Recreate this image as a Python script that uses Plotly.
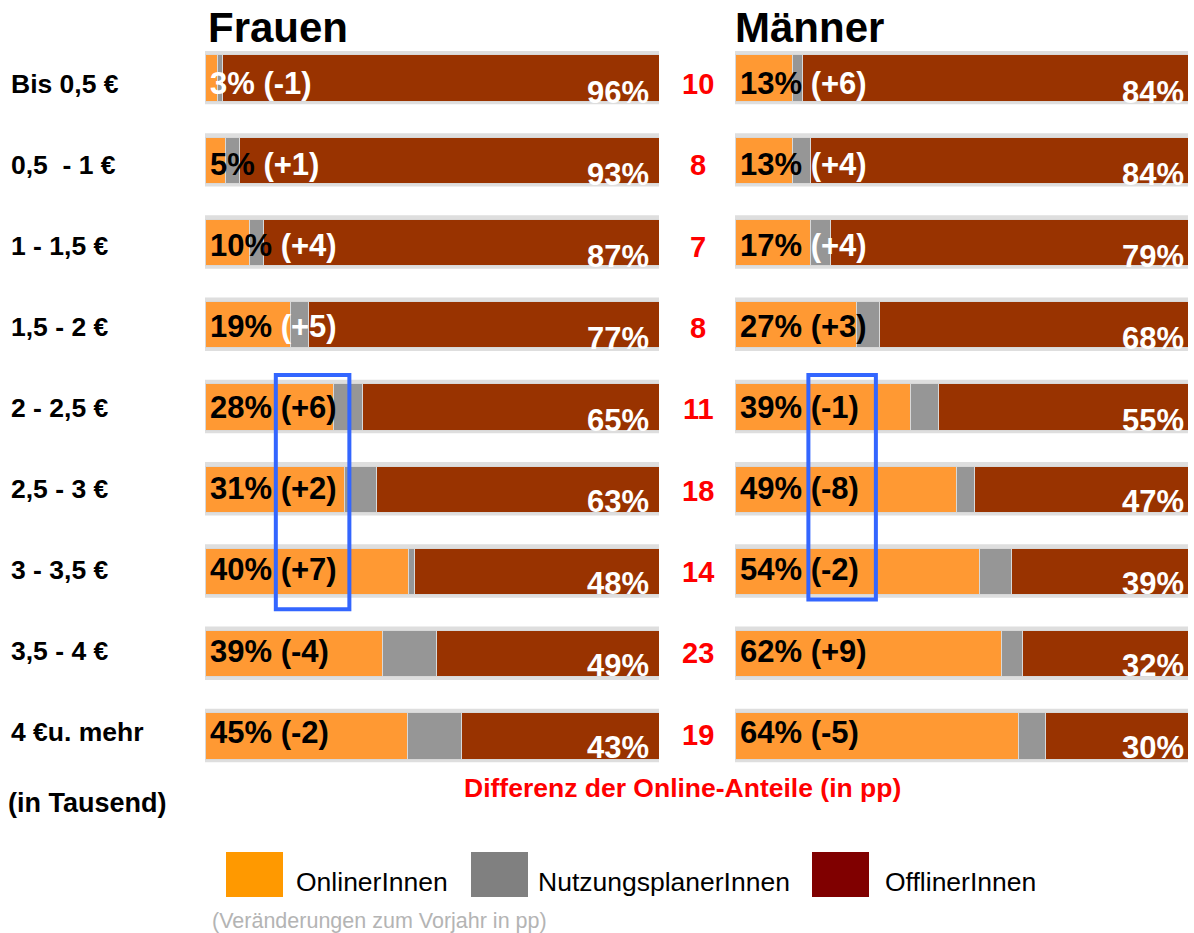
import plotly.graph_objects as go

# ---------------- data ----------------
categories = ["Bis 0,5 €", "0,5\u00a0\u00a0- 1 €", "1 - 1,5 €", "1,5 - 2 €", "2 - 2,5 €",
              "2,5 - 3 €", "3 - 3,5 €", "3,5 - 4 €", "4 €u. mehr"]

frauen_online = [2.7, 4.6, 9.7, 18.8, 28.3, 30.7, 44.9, 39.0, 44.5]
frauen_planer = [1.2, 3.1, 3.2, 4.0, 6.3, 7.0, 1.2, 12.1, 11.9]
frauen_offline = [96.1, 92.3, 87.1, 77.2, 65.4, 62.3, 53.9, 48.9, 43.6]

maenner_online = [12.8, 12.6, 16.7, 26.8, 38.7, 48.8, 53.9, 58.8, 62.6]
maenner_planer = [2.0, 4.0, 4.3, 5.0, 6.2, 4.0, 7.1, 4.6, 6.0]
maenner_offline = [85.2, 83.4, 79.0, 68.2, 55.1, 47.2, 39.0, 36.6, 31.4]

frauen_pct = ["3%", "5%", "10%", "19%", "28%", "31%", "40%", "39%", "45%"]
frauen_chg = ["(-1)", "(+1)", "(+4)", "(+5)", "(+6)", "(+2)", "(+7)", "(-4)", "(-2)"]
frauen_off_lbl = ["96%", "93%", "87%", "77%", "65%", "63%", "48%", "49%", "43%"]

maenner_pct = ["13%", "13%", "17%", "27%", "39%", "49%", "54%", "62%", "64%"]
maenner_chg = ["(+6)", "(+4)", "(+4)", "(+3)", "(-1)", "(-8)", "(-2)", "(+9)", "(-5)"]
maenner_off_lbl = ["84%", "84%", "79%", "68%", "55%", "47%", "39%", "32%", "30%"]

diff_online = [10, 8, 7, 8, 11, 18, 14, 23, 19]

frauen_pct_color = ["white"] + ["black"] * 8
frauen_chg_color = ["white"] * 4 + ["black"] * 5
maenner_pct_color = ["black"] * 9
maenner_chg_color = ["white"] * 3 + ["black"] * 6

series_names = ["OnlinerInnen", "NutzungsplanerInnen", "OfflinerInnen"]
bar_colors = ["#FF9933", "#969696", "#993300"]
legend_colors = ["#FF9900", "#808080", "#800000"]

W, H = 1194, 933
FONT = "Liberation Sans, Arial, sans-serif"
rows = list(range(len(categories)))

fig = go.Figure()

panels = [
    ("x", "y", [frauen_online, frauen_planer, frauen_offline]),
    ("x2", "y2", [maenner_online, maenner_planer, maenner_offline]),
]
for xa, ya, vals in panels:
    for name, col, v in zip(series_names, bar_colors, vals):
        fig.add_trace(go.Bar(
            x=v, y=rows, orientation="h", name=name, width=0.56,
            marker=dict(color=col, line=dict(color="#d8d8d8", width=1)),
            xaxis=xa, yaxis=ya, showlegend=False, hoverinfo="skip",
        ))

shapes = []
annotations = []

# background bands behind each bar
for xr, yr in (("x", "y"), ("x2", "y2")):
    for i in rows:
        shapes.append(dict(type="rect", xref=xr, yref=yr, x0=-0.3, x1=100.3,
                           y0=i - 0.33, y1=i + 0.32, fillcolor="#dedede",
                           line=dict(width=0), layer="below"))

def seg_label(pct, chg, cpct, cchg):
    return (f"<span style='color:{cpct}'>{pct}</span>"
            f"<span style='color:{cchg}'>\u00a0{chg}</span>")

for i in rows:
    dy_left = -(5 - 1.1 * i)
    dy_right = -(14.5 - 0.35 * i)
    # Frauen
    annotations.append(dict(xref="x", yref="y", x=0, y=i, xanchor="left", yanchor="middle",
                            xshift=3, yshift=dy_left, showarrow=False,
                            text=seg_label(frauen_pct[i], frauen_chg[i],
                                           frauen_pct_color[i], frauen_chg_color[i]),
                            font=dict(family=FONT, size=31, weight="bold")))
    annotations.append(dict(xref="x", yref="y", x=100, y=i, xanchor="right", yanchor="middle",
                            xshift=-8, yshift=dy_right, showarrow=False,
                            text=frauen_off_lbl[i],
                            font=dict(family=FONT, size=31, weight="bold", color="white")))
    # Männer
    annotations.append(dict(xref="x2", yref="y2", x=0, y=i, xanchor="left", yanchor="middle",
                            xshift=3, yshift=dy_left, showarrow=False,
                            text=seg_label(maenner_pct[i], maenner_chg[i],
                                           maenner_pct_color[i], maenner_chg_color[i]),
                            font=dict(family=FONT, size=31, weight="bold")))
    annotations.append(dict(xref="x2", yref="y2", x=100, y=i, xanchor="right", yanchor="middle",
                            xshift=-2, yshift=dy_right, showarrow=False,
                            text=maenner_off_lbl[i],
                            font=dict(family=FONT, size=31, weight="bold", color="white")))
    # difference numbers
    annotations.append(dict(xref="paper", yref="y", x=698 / W, y=i, xanchor="center",
                            yanchor="middle", yshift=-(6 - 0.9 * i), showarrow=False,
                            text=str(diff_online[i]),
                            font=dict(family=FONT, size=29, weight="bold", color="#FF0000")))
    # category labels
    annotations.append(dict(xref="paper", yref="y", x=9 / W, y=i, xanchor="left",
                            yanchor="middle", yshift=-(6 - 1.25 * i), showarrow=False,
                            text=categories[i],
                            font=dict(family=FONT, size=26.5, weight="bold", color="black")))

# highlight boxes
shapes.append(dict(type="rect", xref="x", yref="y", x0=15.6, x1=31.8, y0=3.61, y1=6.46,
                   line=dict(color="#3366FF", width=4), fillcolor="rgba(0,0,0,0)"))
shapes.append(dict(type="rect", xref="x2", yref="y2", x0=16.2, x1=31.1, y0=3.61, y1=6.34,
                   line=dict(color="#3366FF", width=4), fillcolor="rgba(0,0,0,0)"))

def px(xp):
    return xp / W

def py(yp):
    return 1 - yp / H

# titles
annotations.append(dict(xref="paper", yref="paper", x=px(206), y=py(27), xanchor="left",
                        yanchor="middle", showarrow=False, text="Frauen",
                        font=dict(family=FONT, size=42, weight="bold", color="black")))
annotations.append(dict(xref="paper", yref="paper", x=px(733), y=py(27), xanchor="left",
                        yanchor="middle", showarrow=False, text="Männer",
                        font=dict(family=FONT, size=42, weight="bold", color="black")))
annotations.append(dict(xref="paper", yref="paper", x=px(6), y=py(803), xanchor="left",
                        yanchor="middle", showarrow=False, text="(in Tausend)",
                        font=dict(family=FONT, size=27, weight="bold", color="black")))
annotations.append(dict(xref="paper", yref="paper", x=px(682), y=py(788), xanchor="center",
                        yanchor="middle", showarrow=False,
                        text="Differenz der Online-Anteile (in pp)",
                        font=dict(family=FONT, size=26.5, weight="bold", color="#FF0000")))

# custom legend
leg_x = [226, 471, 812]
leg_tx = [297, 539, 886]
for name, col, lx, tx in zip(series_names, legend_colors, leg_x, leg_tx):
    shapes.append(dict(type="rect", xref="paper", yref="paper", x0=px(lx), x1=px(lx + 57),
                       y0=py(897), y1=py(852), fillcolor=col, line=dict(width=0)))
    annotations.append(dict(xref="paper", yref="paper", x=px(tx - 3), y=py(882),
                            xanchor="left", yanchor="middle", showarrow=False, text=name,
                            font=dict(family=FONT, size=26.5, color="black")))
annotations.append(dict(xref="paper", yref="paper", x=px(210), y=py(921), xanchor="left",
                        yanchor="middle", showarrow=False,
                        text="(Veränderungen zum Vorjahr in pp)",
                        font=dict(family=FONT, size=21.5, color="#b4b4b4")))

ydom = [1 - 777.1 / H, 1 - 36.9 / H]
axis_off = dict(visible=False, showgrid=False, zeroline=False, fixedrange=True)
fig.update_layout(
    width=W, height=H, margin=dict(l=0, r=0, t=0, b=0),
    paper_bgcolor="white", plot_bgcolor="white",
    barmode="stack", showlegend=False,
    xaxis=dict(domain=[205 / W, 659 / W], range=[0, 100], **axis_off),
    xaxis2=dict(domain=[735 / W, 1188 / W], range=[0, 100], anchor="y2", **axis_off),
    yaxis=dict(domain=ydom, range=[8.5, -0.5], anchor="x", **axis_off),
    yaxis2=dict(domain=ydom, range=[8.5, -0.5], anchor="x2", **axis_off),
    shapes=shapes, annotations=annotations,
)

fig.write_html("out.html", config={"displayModeBar": False},
               post_script="document.body.style.margin='0';document.body.style.overflow='hidden';")
